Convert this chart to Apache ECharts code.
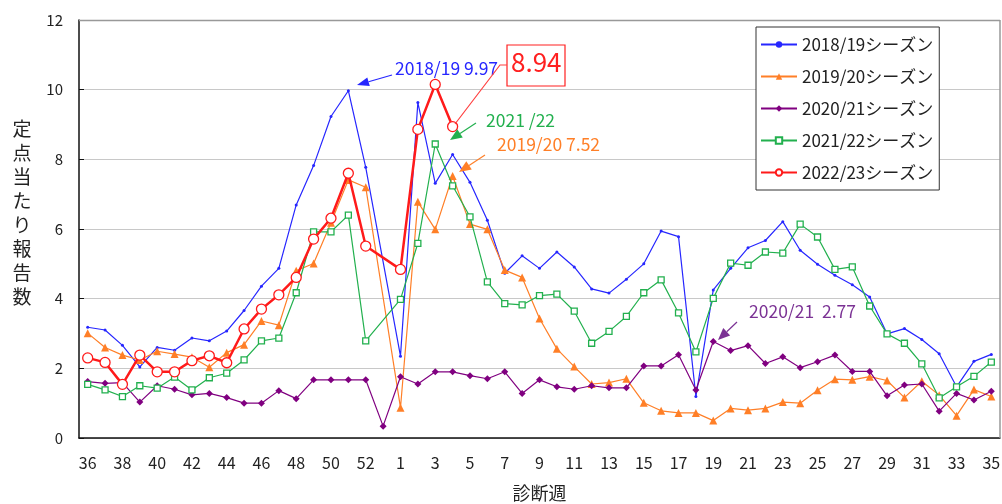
<!DOCTYPE html>
<html><head><meta charset="utf-8">
<script src="https://cdn.jsdelivr.net/npm/echarts@6/dist/echarts.min.js"></script>
<style>html,body{margin:0;padding:0;background:#fff}#c{width:1002px;height:504px}</style>
</head><body><div id="c"></div>
<script>
const weeks = ['36','37','38','39','40','41','42','43','44','45','46','47','48','49','50','51','52','53',
 '1','2','3','4','5','6','7','8','9','10','11','12','13','14','15','16','17','18','19','20','21','22','23','24','25','26','27','28','29','30','31','32','33','34','35'];
const s1819 = [3.18,3.10,2.66,2.04,2.60,2.52,2.87,2.79,3.07,3.66,4.36,4.87,6.69,7.82,9.23,9.97,7.77,null,
 2.35,9.63,7.31,8.14,7.34,6.25,4.73,5.23,4.87,5.34,4.91,4.28,4.16,4.56,5.00,5.94,5.78,1.19,4.25,4.87,5.46,5.67,6.21,5.39,4.99,4.67,4.40,4.05,2.99,3.14,2.83,2.42,1.47,2.20,2.40];
const s1920 = [3.01,2.60,2.38,2.24,2.49,2.41,2.32,2.03,2.45,2.68,3.36,3.24,4.80,5.01,6.18,7.41,7.20,null,
 0.87,6.78,5.99,7.52,6.14,5.99,4.82,4.61,3.43,2.56,2.05,1.55,1.59,1.70,1.01,0.78,0.72,0.72,0.50,0.85,0.80,0.85,1.03,1.00,1.37,1.69,1.67,1.76,1.65,1.16,1.63,1.23,0.64,1.39,1.19];
const s2021 = [1.62,1.57,1.59,1.03,1.50,1.40,1.24,1.28,1.16,1.00,1.00,1.36,1.13,1.67,1.67,1.67,1.67,0.34,
 1.76,1.55,1.90,1.90,1.79,1.70,1.90,1.28,1.67,1.47,1.40,1.50,1.44,1.44,2.07,2.07,2.39,1.38,2.77,2.51,2.65,2.14,2.33,2.02,2.19,2.38,1.91,1.91,1.21,1.52,1.55,0.77,1.28,1.09,1.34];
const s2122 = [1.54,1.38,1.19,1.50,1.43,1.75,1.38,1.73,1.86,2.24,2.79,2.87,4.17,5.92,5.92,6.40,2.79,null,
 3.98,5.59,8.44,7.24,6.35,4.48,3.86,3.82,4.09,4.13,3.64,2.72,3.06,3.49,4.17,4.54,3.59,2.47,4.01,5.02,4.96,5.34,5.31,6.14,5.77,4.84,4.91,3.79,2.99,2.72,2.13,1.15,1.47,1.77,2.18];
const s2223 = [2.30,2.17,1.54,2.38,1.90,1.90,2.22,2.36,2.16,3.13,3.70,4.11,4.61,5.71,6.31,7.60,5.51,null,
 4.84,8.86,10.15,8.94];
const seriesNames = ['2018/19シーズン','2019/20シーズン','2020/21シーズン','2021/22シーズン','2022/23シーズン'];
const yTicks = [0,2,4,6,8,10,12];

const FONT = '"Noto Sans CJK JP", "Liberation Sans", sans-serif';
const chart = echarts.init(document.getElementById('c'), null, {renderer:'canvas'});

function arrow(x1,y1,x2,y2,color,len,wid){
  const a = Math.atan2(y2-y1,x2-x1);
  const bx = x2 - len*Math.cos(a), by = y2 - len*Math.sin(a);
  const px = -Math.sin(a)*wid/2, py = Math.cos(a)*wid/2;
  return [
    {type:'line', shape:{x1:x1,y1:y1,x2:bx,y2:by}, style:{stroke:color,lineWidth:1.2}, z:100},
    {type:'polygon', shape:{points:[[x2,y2],[bx+px,by+py],[bx-px,by-py]]}, style:{fill:color}, z:100}
  ];
}
const yTitle = '定点当たり報告数'.split('').join('\n');

const graphics = [
  {type:'text', x:22, y:117, style:{text:yTitle, font:'19px '+FONT, fill:'#222', lineHeight:24, align:'center'}, z:100},
  {type:'text', left:395, top:60, style:{text:'2018/19 9.97', font:'17.5px '+FONT, fill:'#2626ff'}, z:100},
  ...arrow(392,75,357,85,'#2626ff',12,9),
  {type:'rect', shape:{x:507,y:45,width:58,height:41}, style:{fill:'#fff',stroke:'#ff2020',lineWidth:1.2}, z:100},
  {type:'text', left:511, top:49, style:{text:'8.94', font:'26px '+FONT, fill:'#ff2020'}, z:101},
  {type:'polyline', shape:{points:[[507,65],[500,65],[455,124]]}, style:{stroke:'#ff4040',lineWidth:1.2,fill:null}, z:100},
  {type:'text', left:486, top:112, style:{text:'2021 /22', font:'17.5px '+FONT, fill:'#22b04e'}, z:100},
  ...arrow(476,123,450,140,'#22b04e',12,10),
  {type:'text', left:497, top:136, style:{text:'2019/20 7.52', font:'17.5px '+FONT, fill:'#ff7f27'}, z:100},
  ...arrow(485,155,459,172,'#ff7f27',12,10),
  {type:'text', left:749, top:303, style:{text:'2020/21  2.77', font:'17.5px '+FONT, fill:'#7b3294'}, z:100},
  ...arrow(737,322,718,340,'#7b3294',12,10),
  {type:'line', shape:{x1:79,y1:20.5,x2:1000,y2:20.5}, style:{stroke:'#999',lineWidth:1.5}, z:5},
  {type:'line', shape:{x1:1000,y1:20,x2:1000,y2:438}, style:{stroke:'#999',lineWidth:1.5}, z:5}
];

function mk(name, data, color, symbol, size, lw, hollow, z){
  return {
    name: name, type:'line', data: data, connectNulls:true, z:z,
    symbol: symbol, symbolSize: size, showAllSymbol:true,
    lineStyle:{color:color,width:lw},
    itemStyle:{color: hollow ? '#fff' : color, borderColor: color, borderWidth: hollow ? 1.3 : 0},
    emphasis:{disabled:true}, animation:false
  };
}

chart.setOption({
  animation:false,
  textStyle:{fontFamily:FONT},
  grid:{left:79, right:2, top:20, bottom:66, containLabel:false, outerBoundsMode:'none'},
  legend:{
    orient:'vertical', left:756, top:27, padding:[8,6,8,4], itemGap:13,
    itemWidth:36, itemHeight:8,
    backgroundColor:'#fff', borderColor:'#333', borderWidth:1,
    textStyle:{fontSize:17, lineHeight:19, color:'#222', fontFamily:FONT},
    data: seriesNames
  },
  xAxis:{
    type:'category', data:weeks, boundaryGap:true,
    name:'診断週', nameLocation:'middle', nameGap:46,
    nameTextStyle:{fontSize:18,color:'#222'},
    axisLine:{lineStyle:{color:'#111',width:1.5}},
    axisTick:{inside:true, length:5, interval:0, lineStyle:{color:'#111'}},
    axisLabel:{interval:1, fontSize:16, color:'#222', margin:17},
    splitLine:{show:false}
  },
  yAxis:{
    type:'value', min:yTicks[0], max:yTicks[yTicks.length-1], interval:2,
    axisLine:{show:true, lineStyle:{color:'#111',width:1.5}},
    axisTick:{show:true, inside:true, length:5, lineStyle:{color:'#111'}},
    axisLabel:{fontSize:15, color:'#222', margin:16},
    splitLine:{lineStyle:{color:'#c8c8c8', width:1.2}}
  },
  series:[
    mk(seriesNames[0], s1819, '#2626ff', 'circle', 3, 1.2, false, 2),
    mk(seriesNames[1], s1920, '#ff7f27', 'triangle', 8, 1.2, false, 3),
    mk(seriesNames[2], s2021, '#800080', 'diamond', 7, 1.2, false, 4),
    mk(seriesNames[3], s2122, '#22b04e', 'rect', 6, 1.2, true, 5),
    mk(seriesNames[4], s2223, '#ff1a1a', 'circle', 10, 2.5, true, 6)
  ],
  graphic: graphics
});
</script></body></html>
